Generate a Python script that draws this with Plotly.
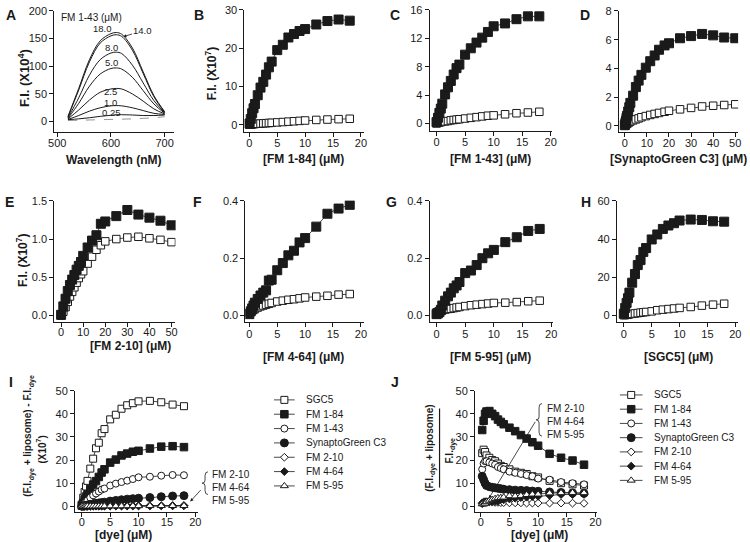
import plotly.graph_objects as go

W, H = 750, 542

# ---------------- data ----------------
# Panel A: FM 1-43 emission spectra (F.I. x10^4) at several dye concentrations
A_wavelength_nm = [520, 540, 560, 580, 600, 610, 620, 640, 660, 680, 700]
A_fi_18p0 = [9.5, 60, 112, 146, 159, 161, 158, 133, 90, 47, 18]
A_fi_14p0 = [8.5, 57, 108, 142, 155, 157, 154, 129, 87, 45, 17]
A_fi_8p0 = [7, 43, 84, 112, 124, 125.5, 123, 102, 70, 38, 16]
A_fi_5p0 = [6, 33, 64, 86, 96, 97, 95, 80, 56, 32, 15]
A_fi_2p5 = [5, 21, 39, 53, 59, 60, 59, 50, 37, 23, 14]
A_fi_1p0 = [4, 11, 19, 25, 28.5, 29, 28.5, 25, 20, 15, 13]
A_fi_0p25 = [3.5, 5, 7, 9.5, 11.5, 12.5, 12.5, 12, 11, 11, 12]
A_fi_blank = [2, 2.5, 3, 3.5, 4, 4, 4.5, 5, 6, 7, 9]
A_conc_labels = ["18.0", "14.0", "8.0", "5.0", "2.5", "1.0", "0.25"]

# dye concentrations (uM) used in B, C, F, G, H, I
conc_uM = [0, 0.25, 0.5, 0.75, 1, 1.5, 2, 2.5, 3, 3.5, 4, 5, 6, 7, 8, 9, 10, 12, 14, 16, 18]

B_lipo = [0.3, 1.5, 3.0, 4.3, 5.4, 7.7, 9.7, 11.2, 13.1, 15.0, 16.5, 19.5, 20.9, 22.8, 23.7, 24.5, 25.0, 26.2, 27.1, 27.5, 27.2]
B_dye = [0, 0.05, 0.1, 0.15, 0.2, 0.25, 0.3, 0.35, 0.4, 0.45, 0.5, 0.6, 0.7, 0.8, 0.9, 1.0, 1.1, 1.25, 1.35, 1.45, 1.55]

C_lipo = [0.2, 0.8, 1.5, 2.1, 2.8, 4.1, 5.1, 6.0, 6.9, 7.8, 8.3, 9.7, 10.6, 11.4, 12.1, 12.9, 13.7, 14.1, 14.7, 15.1, 15.1]
C_dye = [0, 0.1, 0.15, 0.2, 0.25, 0.3, 0.35, 0.45, 0.5, 0.55, 0.6, 0.7, 0.8, 0.9, 1.0, 1.1, 1.15, 1.3, 1.45, 1.55, 1.65]

D_conc_uM = [0, 0.25, 0.5, 0.75, 1, 1.5, 2, 2.5, 3.75, 5, 6.25, 7.5, 9.5, 11.5, 13.5, 15.5, 18, 20, 25, 30, 35, 40, 45, 50]
D_lipo = [0.05, 0.2, 0.35, 0.55, 0.7, 1.0, 1.3, 1.6, 2.1, 2.7, 3.15, 3.55, 4.05, 4.5, 4.9, 5.3, 5.6, 5.75, 6.1, 6.25, 6.4, 6.3, 6.15, 6.1]
D_dye = [0, 0.05, 0.1, 0.12, 0.15, 0.2, 0.25, 0.3, 0.38, 0.45, 0.52, 0.6, 0.68, 0.76, 0.83, 0.9, 0.98, 1.05, 1.15, 1.25, 1.35, 1.4, 1.45, 1.5]

E_conc_uM = [0, 1, 2, 3, 4, 5, 6, 7, 8, 9, 10, 12, 14, 16, 18, 20, 25, 30, 35, 40, 45, 50]
E_lipo = [0.01, 0.12, 0.22, 0.32, 0.4, 0.47, 0.53, 0.6, 0.65, 0.7, 0.78, 0.89, 0.98, 1.05, 1.2, 1.23, 1.3, 1.38, 1.32, 1.28, 1.24, 1.18]
E_lipo_err = [0, 0, 0, 0, 0, 0, 0, 0, 0, 0, 0, 0, 0, 0, 0, 0, 0, 0.05, 0, 0, 0, 0]
E_dye = [0.0, 0.05, 0.11, 0.18, 0.25, 0.31, 0.37, 0.43, 0.49, 0.54, 0.58, 0.68, 0.77, 0.86, 0.92, 0.97, 1.0, 1.02, 1.03, 1.01, 0.99, 0.96]

F_lipo = [0.005, 0.015, 0.025, 0.035, 0.045, 0.058, 0.07, 0.08, 0.088, 0.122, 0.125, 0.158, 0.183, 0.21, 0.226, 0.255, 0.27, 0.31, 0.355, 0.373, 0.386]
F_lipo_err = [0, 0, 0, 0, 0, 0, 0, 0, 0, 0.012, 0.01, 0, 0, 0, 0, 0, 0, 0, 0, 0, 0.008]
F_dye = [0.01, 0.013, 0.017, 0.02, 0.023, 0.028, 0.032, 0.035, 0.038, 0.041, 0.044, 0.049, 0.052, 0.055, 0.057, 0.06, 0.063, 0.066, 0.069, 0.073, 0.075]

G_lipo = [0.005, 0.008, 0.012, 0.02, 0.035, 0.052, 0.067, 0.08, 0.095, 0.105, 0.117, 0.148, 0.157, 0.176, 0.2, 0.217, 0.229, 0.256, 0.273, 0.295, 0.302]
G_dye = [0.011, 0.012, 0.014, 0.016, 0.018, 0.021, 0.023, 0.024, 0.026, 0.028, 0.03, 0.033, 0.036, 0.038, 0.04, 0.042, 0.044, 0.045, 0.047, 0.05, 0.052]

H_lipo = [1.0, 4.0, 6.6, 9.1, 12.0, 17.2, 21.7, 26.4, 29.0, 33.3, 35.3, 39.8, 42.4, 45.3, 47.1, 48.3, 49.7, 50.2, 50.0, 49.3, 49.1]
H_dye = [0.2, 0.3, 0.4, 0.5, 0.7, 0.9, 1.1, 1.3, 1.5, 1.7, 1.9, 2.2, 2.8, 3.1, 3.4, 3.7, 4.0, 4.5, 5.2, 5.7, 6.2]

# Panel I: (F.I.dye + liposome) - F.I.dye  (x10^7)
series_names = ["SGC5", "FM 1-84", "FM 1-43", "SynaptoGreen C3", "FM 2-10", "FM 4-64", "FM 5-95"]
I_SGC5 = [0.8, 3.7, 6.2, 8.6, 11.0, 16.3, 20.6, 25.1, 27.5, 31.6, 33.4, 37.6, 39.6, 42.2, 43.7, 44.6, 45.4, 45.6, 45.0, 44.0, 43.3]
I_FM184 = [0.3, 1.5, 2.9, 4.2, 5.2, 7.5, 9.4, 10.9, 12.7, 14.6, 16.0, 18.9, 20.2, 22.0, 22.8, 23.6, 24.0, 25.0, 25.8, 26.0, 25.6]
I_FM143 = [0.2, 0.7, 1.35, 1.9, 2.55, 3.8, 4.75, 5.55, 6.4, 7.25, 7.7, 9.0, 9.8, 10.5, 11.1, 11.8, 12.55, 12.8, 13.25, 13.55, 13.45]
I_SGC3 = [0.05, 0.15, 0.25, 0.43, 0.55, 0.8, 1.05, 1.3, 1.46, 1.63, 1.8, 2.25, 2.55, 2.84, 3.1, 3.3, 3.5, 3.8, 4.15, 4.45, 4.6]
I_FM210 = [0.0, 0.02, 0.04, 0.05, 0.07, 0.09, 0.11, 0.12, 0.14, 0.15, 0.15, 0.16, 0.16, 0.17, 0.16, 0.16, 0.2, 0.21, 0.21, 0.2, 0.28]
I_FM464 = [0.0, 0.002, 0.008, 0.015, 0.022, 0.03, 0.038, 0.045, 0.05, 0.081, 0.081, 0.109, 0.131, 0.155, 0.169, 0.195, 0.207, 0.244, 0.286, 0.3, 0.311]
I_FM595 = [0.0, 0.0, 0.0, 0.004, 0.017, 0.031, 0.044, 0.056, 0.069, 0.077, 0.087, 0.115, 0.121, 0.138, 0.16, 0.175, 0.185, 0.211, 0.226, 0.245, 0.25]

# Panel J: (F.I.dye + liposome) / F.I.dye
J_conc_uM = [0.25, 0.5, 0.75, 1, 1.5, 2, 2.5, 3, 3.5, 4, 5, 6, 7, 8, 9, 10, 12, 14, 16, 18]
J_SGC5 = [23.0, 24.5, 23.5, 22.0, 21.0, 20.0, 19.5, 18.5, 17.5, 17.0, 16.0, 15.0, 14.5, 14.0, 13.0, 12.5, 11.0, 10.0, 9.5, 9.0]
J_FM184 = [33.0, 37.0, 40.0, 41.0, 41.2, 40.0, 39.0, 37.5, 36.5, 35.5, 34.0, 32.5, 30.8, 29.3, 27.7, 26.2, 22.7, 21.0, 19.8, 18.0]
J_FM143 = [16.0, 18.5, 19.5, 19.5, 19.0, 18.5, 18.0, 17.0, 16.5, 16.0, 15.0, 14.5, 14.0, 13.5, 13.0, 12.0, 11.5, 10.5, 10.0, 9.5]
J_SGC3 = [13.0, 11.5, 10.0, 9.0, 8.5, 8.2, 8.0, 7.8, 7.6, 7.4, 7.2, 7.0, 6.9, 6.8, 6.6, 6.5, 6.2, 6.0, 5.8, 5.6]
J_FM210 = [1.5, 1.8, 2.0, 2.0, 1.9, 1.8, 1.7, 1.7, 1.6, 1.6, 1.5, 1.5, 1.5, 1.4, 1.4, 1.4, 1.4, 1.4, 1.35, 1.3]
J_FM464 = [1.15, 1.5, 1.75, 1.95, 2.1, 2.2, 2.3, 2.3, 3.0, 2.85, 3.2, 3.5, 3.8, 3.95, 4.25, 4.3, 4.7, 5.1, 5.1, 5.15]
J_FM595 = [1.0, 0.9, 1.25, 1.9, 2.5, 2.9, 3.3, 3.65, 3.75, 3.9, 4.5, 4.4, 4.6, 5.0, 5.2, 5.2, 5.7, 5.8, 5.9, 5.8]

# ---------------- styling / layout ----------------
FONT = "Arial, Liberation Sans, Helvetica, sans-serif"
INK = "#1a1a1a"

STYLES = {
    "SGC5": ("square", False, 7),
    "FM 1-84": ("square", True, 7.5),
    "FM 1-43": ("circle", False, 7),
    "SynaptoGreen C3": ("circle", True, 8),
    "FM 2-10": ("diamond", False, 6),
    "FM 4-64": ("diamond", True, 6),
    "FM 5-95": ("triangle-up", False, 7),
}

# panel boxes in pixels (left, right, top, bottom), axis ranges, ticks, y format, x label standoff
PANELS = {
    "A": ((49, 170, 5, 127), [494.5, 716.5], [-18, 200], [500, 600, 700], [0, 50, 100, 150, 200], None, -3),
    "B": ((242, 363, 4, 127), [-0.88, 20.5], [-1.8, 30], [0, 5, 10, 15, 20], [0, 10, 20, 30], None, -3),
    "C": ((430, 554, 4, 126), [-1.2, 20.2], [-1.0, 16], [0, 5, 10, 15, 20], [0, 4, 8, 12, 16], None, -3),
    "D": ((622, 743, 5, 127), [-2.7, 51.3], [-0.4, 8], [0, 10, 20, 30, 40, 50], [0, 2, 4, 6, 8], None, -3),
    "E": ((49, 172, 197, 320), [-3.1, 51.8], [-0.09, 1.5], [0, 10, 20, 30, 40, 50], [0, 0.5, 1.0, 1.5], ".1f", -5),
    "F": ((243, 363, 197, 320), [-0.7, 20.5], [-0.024, 0.4], [0, 5, 10, 15, 20], [0, 0.2, 0.4], ".1f", -3),
    "G": ((430, 555, 197, 320), [-1.2, 20.3], [-0.024, 0.4], [0, 5, 10, 15, 20], [0, 0.2, 0.4], ".1f", -3),
    "H": ((620, 743, 197, 320), [-1.24, 20.5], [-3.6, 60], [0, 5, 10, 15, 20], [0, 20, 40, 60], None, -3),
    "I": ((70, 195, 389, 512), [-1.2, 20.5], [-2.6, 50], [0, 5, 10, 15, 20], [0, 10, 20, 30, 40, 50], None, -5),
    "J": ((476, 600, 389, 512), [-1.0, 20.3], [-2.6, 50], [0, 5, 10, 15, 20], [0, 10, 20, 30, 40, 50], None, -5),
}

fig = go.Figure()
layout = dict(
    width=W, height=H, margin=dict(l=0, r=0, t=0, b=0),
    paper_bgcolor="white", plot_bgcolor="rgba(0,0,0,0)",
    showlegend=False, font=dict(family=FONT, color=INK),
)

# overlay axis (id x / y) in pixel units for labels, legend keys, braces
layout["xaxis"] = dict(domain=[0, 1], range=[0, W], visible=False, fixedrange=True, anchor="y")
layout["yaxis"] = dict(domain=[0, 1], range=[H, 0], visible=False, fixedrange=True, anchor="x")
OX, OY = "x", "y"

AX = {}
for i, (key, (box, xr, yr, xt, yt, yfmt, xstand)) in enumerate(PANELS.items(), start=2):
    l, r, t, b = box
    common = dict(showline=True, linecolor=INK, linewidth=1, ticks="outside", ticklen=4,
                  tickwidth=1, tickcolor=INK, showgrid=False, zeroline=False,
                  tickfont=dict(family=FONT, size=11, color=INK), fixedrange=True)
    layout[f"xaxis{i}"] = dict(common, domain=[l / W, r / W], range=xr, tickmode="array",
                               tickvals=xt, anchor=f"y{i}", ticklabelstandoff=xstand)
    yax = dict(common, domain=[1 - b / H, 1 - t / H], range=yr, tickmode="array",
               tickvals=yt, anchor=f"x{i}")
    if yfmt:
        yax["tickformat"] = yfmt
    layout[f"yaxis{i}"] = yax
    AX[key] = (f"x{i}", f"y{i}")


def add_series(panel, x, y, symbol, filled, size, err=None):
    xa, ya = AX[panel]
    tr = go.Scatter(
        x=x, y=y, xaxis=xa, yaxis=ya, mode="lines+markers",
        line=dict(color=INK, width=0.8),
        marker=dict(symbol=symbol, size=size, color=INK if filled else "white",
                    line=dict(color=INK, width=1)),
        hoverinfo="skip",
    )
    if err is not None:
        tr.error_y = dict(type="data", array=err, visible=True, color=INK, thickness=1, width=3)
    fig.add_trace(tr)


# Panel A spectra
xa, ya = AX["A"]
for ys in [A_fi_18p0, A_fi_14p0, A_fi_8p0, A_fi_5p0, A_fi_2p5, A_fi_1p0, A_fi_0p25]:
    fig.add_trace(go.Scatter(x=A_wavelength_nm, y=ys, xaxis=xa, yaxis=ya, mode="lines",
                             line=dict(color=INK, width=1, shape="spline"), hoverinfo="skip"))
fig.add_trace(go.Scatter(x=A_wavelength_nm, y=A_fi_blank, xaxis=xa, yaxis=ya, mode="lines",
                         line=dict(color="#777", width=0.8, dash="dash", shape="spline"), hoverinfo="skip"))

# Panels B-H: dye alone (open) and dye + liposome (filled)
OPEN_SIZE, FILLED_SIZE = 7.5, 9
add_series("B", conc_uM, B_dye, "square", False, OPEN_SIZE)
add_series("B", conc_uM, B_lipo, "square", True, FILLED_SIZE)
add_series("C", conc_uM, C_dye, "square", False, OPEN_SIZE)
add_series("C", conc_uM, C_lipo, "square", True, FILLED_SIZE)
add_series("D", D_conc_uM, D_dye, "square", False, OPEN_SIZE)
add_series("D", D_conc_uM, D_lipo, "square", True, FILLED_SIZE)
add_series("E", E_conc_uM, E_dye, "square", False, OPEN_SIZE)
add_series("E", E_conc_uM, E_lipo, "square", True, FILLED_SIZE, err=E_lipo_err)
add_series("F", conc_uM, F_dye, "square", False, OPEN_SIZE)
add_series("F", conc_uM, F_lipo, "square", True, FILLED_SIZE, err=F_lipo_err)
add_series("G", conc_uM, G_dye, "square", False, OPEN_SIZE)
add_series("G", conc_uM, G_lipo, "square", True, FILLED_SIZE)
add_series("H", conc_uM, H_dye, "square", False, OPEN_SIZE)
add_series("H", conc_uM, H_lipo, "square", True, FILLED_SIZE)

# Panels I and J
I_values = [I_SGC5, I_FM184, I_FM143, I_SGC3, I_FM210, I_FM464, I_FM595]
J_values = [J_SGC5, J_FM184, J_FM143, J_SGC3, J_FM210, J_FM464, J_FM595]
for name, ys in zip(series_names, I_values):
    sym, filled, size = STYLES[name]
    add_series("I", conc_uM, ys, sym, filled, size)
for name, ys in zip(series_names, J_values):
    sym, filled, size = STYLES[name]
    add_series("J", J_conc_uM, ys, sym, filled, size)

annotations = []
shapes = []


def txt(x, y, text, size=11, bold=False, angle=0, xanchor="center", yanchor="middle"):
    annotations.append(dict(
        x=x, y=y, xref=OX, yref=OY, text=f"<b>{text}</b>" if bold else text,
        showarrow=False, textangle=angle, xanchor=xanchor, yanchor=yanchor,
        font=dict(family=FONT, size=size, color=INK),
    ))


# manual legends for I and J
def legend(x_line0, x_line1, x_text, y0, step):
    for k, name in enumerate(series_names):
        sym, filled, size = STYLES[name]
        yy = y0 + k * step
        fig.add_trace(go.Scatter(x=[x_line0, x_line1], y=[yy, yy], xaxis=OX, yaxis=OY, mode="lines",
                                 line=dict(color=INK, width=0.8), hoverinfo="skip"))
        fig.add_trace(go.Scatter(x=[(x_line0 + x_line1) / 2], y=[yy], xaxis=OX, yaxis=OY, mode="markers",
                                 marker=dict(symbol=sym, size=size, color=INK if filled else "white",
                                             line=dict(color=INK, width=1)), hoverinfo="skip"))
        txt(x_text, yy, name, size=10, xanchor="left")


legend(272, 293, 302, 398.3, 14.5)
legend(623, 646, 656, 393.3, 14.4)

# panel letters
for letter, (px, py) in {"A": (5, 9), "B": (196, 9), "C": (395, 9), "D": (588, 9),
                         "E": (4, 198), "F": (194, 198), "G": (391, 198), "H": (589, 198),
                         "I": (5, 380), "J": (395, 380)}.items():
    txt(px, py, letter, size=14, bold=True)

# x-axis titles
txt(110, 156, "Wavelength (nM)", size=12, bold=True)
txt(302, 155, "[FM 1-84] (μM)", size=12, bold=True)
txt(492, 155, "[FM 1-43] (μM)", size=12, bold=True)
txt(683, 155, "[SynaptoGreen C3] (μM)", size=12, bold=True)
txt(126, 344, "[FM 2-10] (μM)", size=12, bold=True)
txt(302, 355, "[FM 4-64] (μM)", size=12, bold=True)
txt(492, 355, "[FM 5-95] (μM)", size=12, bold=True)
txt(682, 355, "[SGC5] (μM)", size=12, bold=True)
txt(119, 535, "[dye] (μM)", size=12, bold=True)
txt(541, 535, "[dye] (μM)", size=12, bold=True)

# y-axis titles
txt(18, 73, "F.I. (X10<sup>4</sup>)", size=13, bold=True, angle=-90)
txt(208, 68, "F.I. (X10<sup>7</sup>)", size=12, bold=True, angle=-90)
txt(16, 257, "F.I. (X10<sup>7</sup>)", size=12, bold=True, angle=-90)
txt(23, 435, "(F.I.<sub>dye</sub> + liposome) - F.I.<sub>dye</sub>", size=10, bold=True, angle=-90)
txt(36, 448, "(X10<sup>7</sup>)", size=10, bold=True, angle=-90)
txt(430, 447, "(F.I.<sub>dye</sub> + liposome)", size=10, bold=True, angle=-90)
txt(451, 449, "F.I.<sub>dye</sub>", size=10, bold=True, angle=-90)
shapes.append(dict(type="line", xref=OX, yref=OY, x0=440, x1=440, y0=407, y1=487,
                   line=dict(color=INK, width=1.2)))

# panel A labels
txt(87, 12, "FM 1-43 (μM)", size=10)
label_pos = [(98, 23), None, (107, 42), (107, 57), (106, 86), (106, 98), (107, 108)]
for lab, pos in zip(A_conc_labels, label_pos):
    if pos is not None:
        txt(pos[0], pos[1], lab, size=9.5)
annotations.append(dict(x=119, y=31, xref=OX, yref=OY, ax=139, ay=25, axref=OX, ayref=OY,
                        text=A_conc_labels[1], showarrow=True, arrowhead=2, arrowsize=0.8,
                        arrowwidth=0.8, arrowcolor=INK, font=dict(family=FONT, size=9.5, color=INK)))


# braces + labels in I and J
def brace(x_tip, x_edge, y_top, y_bot):
    ym = (y_top + y_bot) / 2
    xm = (x_tip + x_edge) / 2
    path = (f"M {x_edge} {y_top} Q {xm} {y_top} {xm} {y_top + 4} L {xm} {ym - 3} "
            f"Q {xm} {ym} {x_tip} {ym} Q {xm} {ym} {xm} {ym + 3} L {xm} {y_bot - 4} "
            f"Q {xm} {y_bot} {x_edge} {y_bot}")
    shapes.append(dict(type="path", path=path, xref=OX, yref=OY, line=dict(color=INK, width=0.8)))


brace(199, 205, 471, 494)
for k, name in enumerate(series_names[4:]):
    txt(207, 473.5 + k * 13.5, name, size=10, xanchor="left")
annotations.append(dict(x=187, y=501, xref=OX, yref=OY, ax=199, ay=488, axref=OX, ayref=OY,
                        text="", showarrow=True, arrowhead=2, arrowsize=0.8, arrowwidth=0.8,
                        arrowcolor=INK))

brace(538, 544, 402, 435)
for k, name in enumerate(series_names[4:]):
    txt(547, 407 + k * 13, name, size=10, xanchor="left")
annotations.append(dict(x=490, y=498, xref=OX, yref=OY, ax=538, ay=419, axref=OX, ayref=OY,
                        text="", showarrow=True, arrowhead=2, arrowsize=0.8, arrowwidth=0.8,
                        arrowcolor=INK))

layout["annotations"] = annotations
layout["shapes"] = shapes
fig.update_layout(**layout)
fig.write_html("out.html", config={"displayModeBar": False},
               post_script="document.body.style.margin='0px';")
